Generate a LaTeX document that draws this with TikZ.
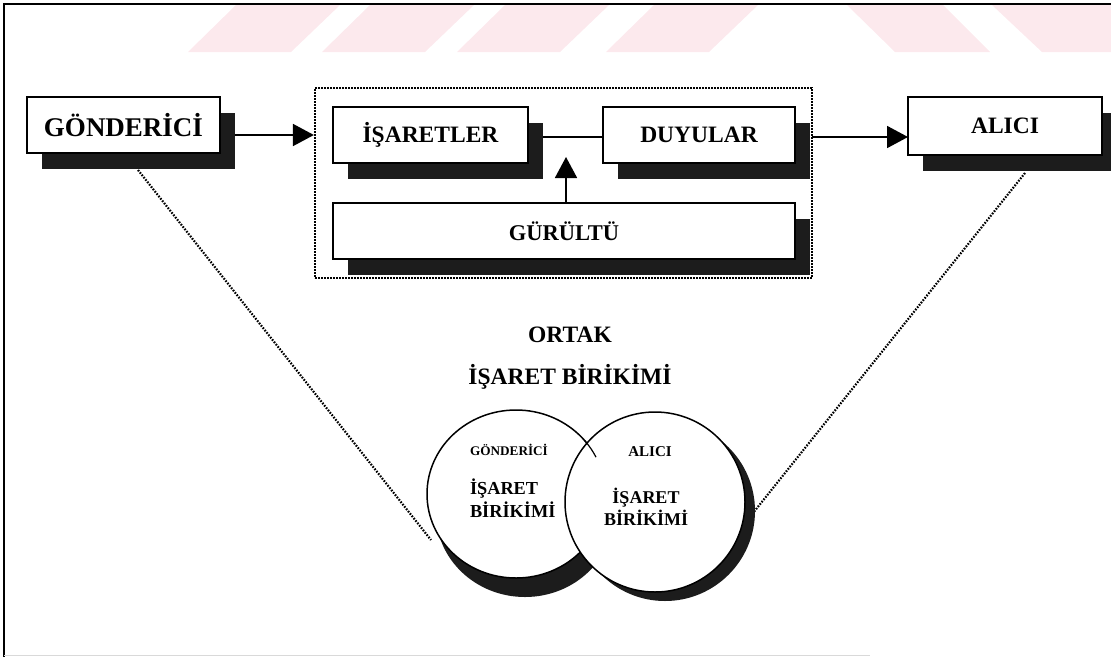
\documentclass[tikz,border=0pt]{standalone}
\usepackage{fontspec}
\setmainfont{Liberation Serif}
\usetikzlibrary{arrows.meta,shadows,shapes.geometric}
\definecolor{wm}{RGB}{252,233,237}
\definecolor{shd}{RGB}{28,28,28}
\newcommand{\fs}[1]{\bfseries\fontsize{#1}{#1}\selectfont}
\begin{document}
\begin{tikzpicture}[x=1pt,y=-1pt,
  box/.style={draw, line width=1.3pt, fill=white, inner sep=0pt, outer sep=0pt,
    font=\fs{23.5}, general shadow={fill=shd, shadow xshift=15pt, shadow yshift=-16pt}},
  arr/.style={line width=1.8pt, -{Triangle[length=21pt,width=22pt]}},
  dotl/.style={line width=2.2pt, dash pattern=on 1.6pt off 1.4pt},
  lbl/.style={inner sep=0pt, outer sep=0pt}]
\useasboundingbox (0,0) rectangle (1111,657);
% watermark
\fill[wm] (188,52) -- (291,52) -- (340,5) -- (236,5) -- cycle;
\fill[wm] (322,52) -- (425,52) -- (474,5) -- (370,5) -- cycle;
\fill[wm] (457,52) -- (560,52) -- (609,5) -- (505,5) -- cycle;
\fill[wm] (606,52) -- (709,52) -- (758,5) -- (654,5) -- cycle;
\fill[wm] (847,5) -- (943,5) -- (990,52) -- (895,52) -- cycle;
\fill[wm] (992,5) -- (1111,5) -- (1111,52) -- (1042,52) -- cycle;
% page frame
\draw[line width=1.6pt] (4,657) -- (4,4) -- (1111,4);
\draw[gray!30, line width=1pt] (4,655) -- (870,655);
% channel frame
\node[draw, dotl, minimum width=497pt, minimum height=190pt, inner sep=0pt] (frame) at (563.5,183) {};
% boxes
\node[box, minimum width=193pt, minimum height=56pt, font=\fs{27}] (gon) at (123.5,125) {GÖNDERİCİ};
\node[box, minimum width=195pt, minimum height=56pt] (isa) at (430.5,135) {İŞARETLER};
\node[box, minimum width=192pt, minimum height=56pt] (duy) at (699,135) {DUYULAR};
\node[box, minimum width=462pt, minimum height=56pt, font=\fs{22.5}] (gur) at (564,231) {GÜRÜLTÜ};
\node[box, minimum width=194pt, minimum height=58pt] (alc) at (1005,126) {ALICI};
% connectors
\coordinate (a1) at (235,135);
\draw[arr] (a1) -- (a1 -| frame.west);
\coordinate (a2) at (812,137);
\draw[arr] (a2) -- (a2 -| alc.west);
\draw[line width=1.8pt] ([xshift=15pt,yshift=-2pt]isa.east) -- ([yshift=-2pt]duy.west);
\coordinate (up) at (566,157);
\draw[arr] (up |- gur.north) -- (up);
% dotted links to circles
\coordinate (gl) at (138,170);
\coordinate (gle) at (431,540);
\draw[dotl] (gl) -- (gle);
\coordinate (al) at (1025,173);
\coordinate (ale) at (753,513);
\draw[dotl] (al) -- (ale);
% title
\node[lbl, font=\fs{23.5}] (ortak) at (570,335) {ORTAK};
\node[lbl, font=\fs{23.5}] (oib) at (570,377) {İŞARET BİRİKİMİ};
% circles
\node[ellipse, draw, line width=1.5pt, fill=white, minimum width=178pt, minimum height=168pt, inner sep=0pt,
  general shadow={fill=shd, shadow xshift=9pt, shadow yshift=-19pt}] (lc) at (516,494) {};
\node[circle, draw, line width=1.5pt, fill=white, minimum size=180pt, inner sep=0pt,
  general shadow={fill=shd, shadow xshift=10pt, shadow yshift=-9pt}] (rc) at (655,502) {};
\draw[line width=1.2pt] (584.2,440) arc[start angle=-40, end angle=-26, x radius=89, y radius=84];
% circle texts
\node[lbl, font=\fs{13.2}] (lcg) at (509,450) {GÖNDERİCİ};
\node[lbl, font=\fs{18.3}, align=left, anchor=west] (lcs) at (470,498) {İŞARET\\[2pt]BİRİKİMİ};
\node[lbl, font=\fs{15}] (rca) at (650,452) {ALICI};
\node[lbl, font=\fs{18}, align=center] (rcs) at (646,507) {İŞARET\\[2pt]BİRİKİMİ};
\end{tikzpicture}
\end{document}
